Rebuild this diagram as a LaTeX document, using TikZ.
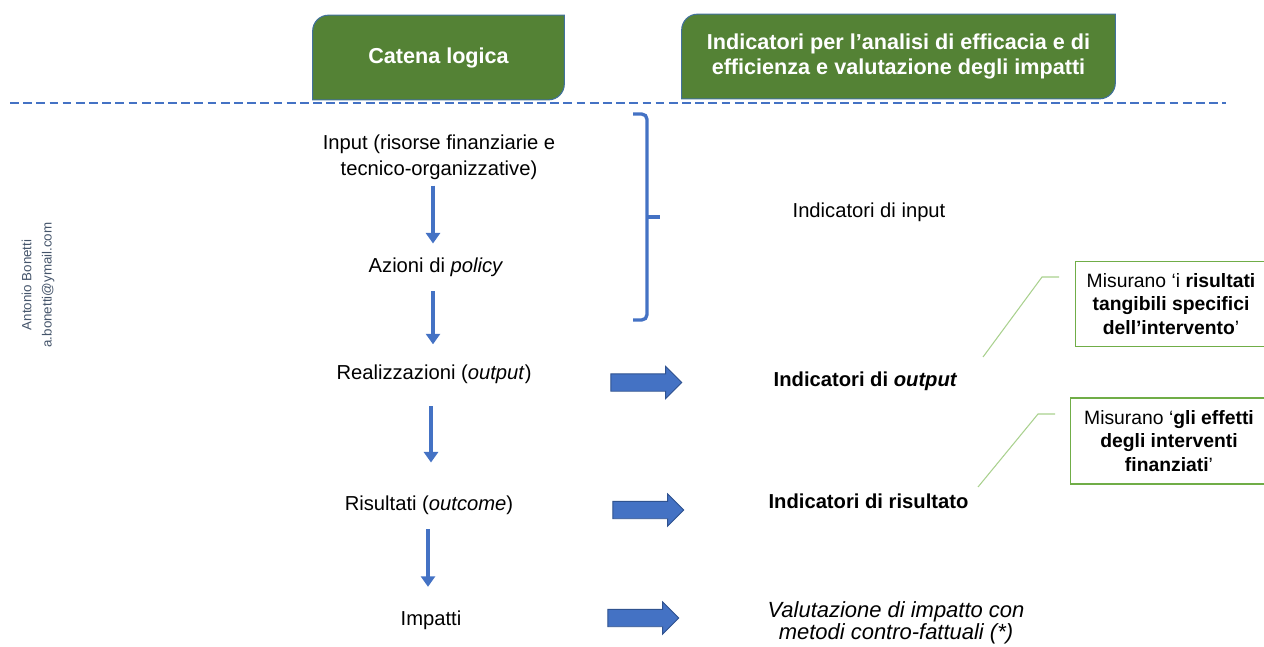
\documentclass[tikz,border=0pt]{standalone}
\usepackage{fontspec}
\setmainfont{Liberation Sans}
\usetikzlibrary{arrows.meta, shapes.arrows, positioning, backgrounds}
\definecolor{hdrgreen}{HTML}{548235}
\definecolor{hdrline}{HTML}{41719C}
\definecolor{accblue}{HTML}{4472C4}
\definecolor{arrline}{HTML}{2F528F}
\definecolor{calloutgreen}{HTML}{70AD47}
\definecolor{leadergreen}{HTML}{A9D18E}
\definecolor{markgray}{HTML}{44546A}
\tikzset{
    header/.style={minimum width=#1, minimum height=1.68cm, inner sep=0pt, align=center, text=white, font=\fontsize{12.3}{14.5}\selectfont\bfseries},
    hdrshape/.style={draw=hdrline, fill=hdrgreen, line width=0.6pt},
    chain/.style={align=center, font=\fontsize{11.5}{14.7}\selectfont},
    indic/.style={align=center, font=\fontsize{11.5}{14}\selectfont\bfseries},
    fatarrow/.style={single arrow, draw=arrline, fill=accblue, line width=0.5pt, minimum height=1.42cm, single arrow head extend=0.15cm, inner sep=0pt, text height=0.33cm, text depth=0pt, text width=0pt},
    downarrow/.style={-{Triangle[width=8pt,length=6pt]}, accblue, line width=2.1pt},
    callout/.style={draw=calloutgreen, line width=0.6pt, align=center, inner sep=0pt, font=\fontsize{11}{13.6}\selectfont},
    leader/.style={draw=leadergreen, line width=0.6pt},
    sepline/.style={accblue, line width=1.4pt, dash pattern=on 5pt off 2.5pt},
    bracket/.style={accblue, line width=1.9pt, rounded corners=3pt}
}

\begin{document}
\begin{tikzpicture}[x=0.02cm, y=-0.02cm]
    \useasboundingbox (0,0) rectangle (1264,646);

    % Headers
    \node[header=5.02cm] (hdrChain) at (438.5,57.5) {Catena logica};
    \node[header=8.66cm] (hdrIndic) at (898.5,56.5) {Indicatori per l’analisi di efficacia e di\\efficienza e valutazione degli impatti};
    \begin{scope}[on background layer]
        \foreach \h in {hdrChain, hdrIndic} {
            \draw[hdrshape] (\h.south west) -- ([yshift=-9pt]\h.north west) arc[start angle=180, end angle=90, radius=9pt] -- (\h.north east) -- ([yshift=9pt]\h.south east) arc[start angle=0, end angle=-90, radius=9pt] -- cycle;
        }
    \end{scope}
    \draw[sepline] (10,103) -- (1226,103);

    % Watermark
    \node[rotate=90, align=center, text=markgray, font=\fontsize{7.6}{11.5}\selectfont] (mark) at (38,285) {Antonio Bonetti\\a.bonetti@ymail.com};

    % Logical chain
    \node[chain] (inp) at (439,157) {Input (risorse finanziarie e\\tecnico-organizzative)};
    \node[chain] (azi) at (436,267) {Azioni di \textit{policy}};
    \node[chain] (rea) at (434,374) {Realizzazioni (\textit{output})};
    \node[chain] (ris) at (429,505) {Risultati (\textit{outcome})};
    \node[chain] (imp) at (431,620) {Impatti};

    \draw[downarrow, shorten <=0pt, shorten >=4.5pt] (inp.south -| 433,0) -- (azi.north -| 433,0);
    \draw[downarrow, shorten <=5pt, shorten >=8pt] (azi.south -| 433,0) -- (rea.north -| 433,0);
    \draw[downarrow, shorten <=9.6pt, shorten >=15.3pt] (rea.south -| 431,0) -- (ris.north -| 431,0);
    \draw[downarrow, shorten <=5pt, shorten >=10pt] (ris.south -| 428,0) -- (imp.north -| 428,0);

    % Bracket
    \draw[bracket] (633,114) -- (647,114) -- (647,320) -- (633,320);
    \draw[bracket] (647,217) -- (660,217);

    % Indicators
    \node[chain] (indIn) at (869,212) {Indicatori di input};
    \node[indic] (indOut) at (865.5,381) {Indicatori di \textit{output}};
    \node[indic] (indRis) at (868.5,501) {Indicatori di risultato};
    \node[chain, font=\fontsize{12.5}{12.5}\selectfont\itshape] (valImp) at (896,623) {Valutazione di impatto con\\metodi contro-fattuali (*)};

    \node[fatarrow] (arrOut) at (642,382.5) {};
    \node[fatarrow] (arrRis) at (644,510) {};
    \node[fatarrow] (arrImp) at (639,618) {};

    % Callouts
    \node[callout, minimum width=3.84cm, minimum height=1.7cm] (noteOut) at (1171,304) {Misurano ‘i \textbf{risultati}\\\textbf{tangibili specifici}\\\textbf{dell’intervento}’};
    \node[callout, minimum width=3.96cm, minimum height=1.72cm] (noteRis) at (1169,441) {Misurano ‘\textbf{gli effetti}\\\textbf{degli interventi}\\\textbf{finanziati}’};
    \coordinate (tipOut) at (983,357);
    \coordinate (endOut) at (1059,277);
    \coordinate (tipRis) at (978,487);
    \coordinate (endRis) at (1055,414);
    \draw[leader] (tipOut) -- (1042,277) -- (endOut);
    \draw[leader] (tipRis) -- (1038,414) -- (endRis);
\end{tikzpicture}
\end{document}
